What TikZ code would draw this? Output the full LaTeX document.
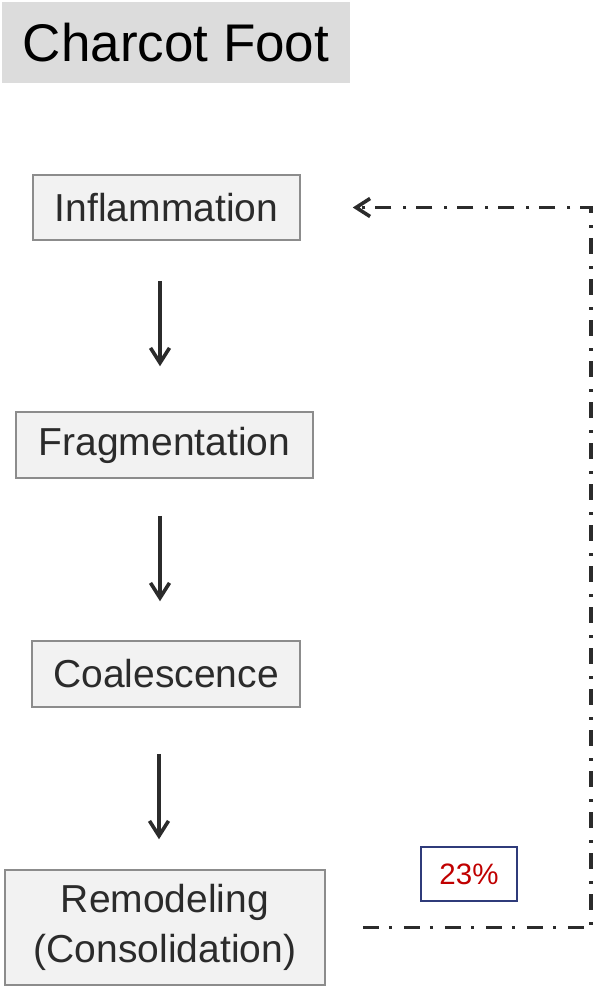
\documentclass[tikz,border=0pt]{standalone}
\usepackage{fontspec}
\setmainfont{Liberation Sans}
\usepackage{xcolor}
\usetikzlibrary{
    arrows.meta,
    positioning,
    calc
}
\definecolor{boxfill}{HTML}{F2F2F2}
\definecolor{boxline}{HTML}{8C8C8C}
\definecolor{titlefill}{HTML}{DCDCDC}
\definecolor{ink}{HTML}{2B2B2B}
\definecolor{pctred}{HTML}{C00000}
\definecolor{pctline}{HTML}{2F3B7A}
\tikzset{%
   stage/.style={
      draw=boxline,
      fill=boxfill,
      line width=1.5pt,
      text=ink,
      inner sep=0pt,
      align=center,
      font=\fontsize{39}{50}\selectfont
   },
   headline/.style={
      fill=titlefill,
      text=black,
      inner sep=0pt,
      font=\fontsize{53}{60}\selectfont
   },
   pct/.style={
      draw=pctline,
      fill=white,
      line width=1.5pt,
      text=pctred,
      inner sep=0pt,
      minimum width=96pt,
      minimum height=54pt,
      font=\fontsize{29.5}{32}\selectfont
   },
   flow/.style={
      draw=ink,
      line width=3.6pt,
      -{Straight Barb[length=15pt,width=19pt,line width=3.6pt]}
   },
   backloop/.style={
      draw=ink,
      line width=3.6pt,
      dash pattern=on 16pt off 10pt on 3pt off 12pt,
      -{Straight Barb[length=14pt,width=18pt,line width=3.6pt]}
   },
}

\begin{document}
\begin{tikzpicture}[x=1pt, y=-1pt]
      \useasboundingbox (0,0) rectangle (596,990);
      \node[headline, minimum width=348pt, minimum height=81pt] (title) at (176,42.5) {Charcot Foot};
      \node[stage, minimum width=267pt, minimum height=65pt] (infl) at (166.5,207.5) {Inflammation};
      \node[stage, minimum width=297pt, minimum height=66pt] (frag) at (164.5,445) {Fragmentation};
      \node[stage, minimum width=268pt, minimum height=66pt] (coal) at (166,674) {Coalescence};
      \node[stage, minimum width=320pt, minimum height=115pt] (remod) at (165,927.5) {Remodeling\\(Consolidation)};
      \node[pct] (rate) at (469,874) {23\%};
      \coordinate (ax) at (160,0);
      \coordinate (turn) at (591,0);
      \draw[flow, shorten <=40pt, shorten >=45pt] (infl.south -| ax) -- (frag.north -| ax);
      \draw[flow, shorten <=37pt, shorten >=39pt] (frag.south -| ax) -- (coal.north -| ax);
      \draw[flow, shorten <=46pt, shorten >=30pt] ([xshift=-1pt]coal.south -| ax) -- ([xshift=-1pt]remod.north -| ax);
      \draw[backloop, shorten <=37pt, shorten >=52pt] (remod.east) -| (infl.east -| turn) -- (infl.east);
   \end{tikzpicture}
\end{document}
